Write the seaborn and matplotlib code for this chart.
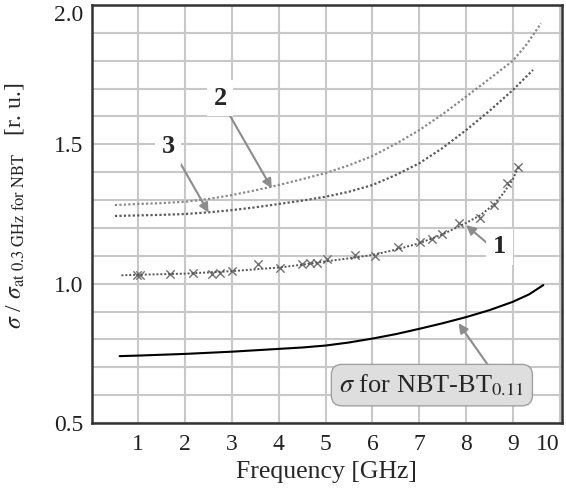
#!/usr/bin/env python
# -*- coding: utf-8 -*-

"""
Относительная проводимость sigma в зависимости от частоты (кривые 1, 2, 3 и NBT-BT0.11).
"""

import matplotlib.pyplot as plt
import seaborn as sns
from matplotlib.ticker import MultipleLocator

# ----------------------------------------------------------------------
# 1. Данные
# ----------------------------------------------------------------------
freq_nbt = [0.6, 1, 2, 3, 4, 4.5, 5, 5.5, 6, 6.5, 7, 7.5, 8, 8.5, 9, 9.35, 9.65]
sigma_nbt = [0.740, 0.742, 0.748, 0.756, 0.766, 0.771, 0.778, 0.789, 0.803, 0.819,
             0.838, 0.858, 0.880, 0.905, 0.935, 0.962, 0.995]

freq_2 = [0.5, 1, 1.5, 2, 2.5, 3, 3.5, 4, 4.5, 5, 5.5, 6, 6.5, 7, 7.5, 8, 8.5, 9, 9.3, 9.6]
curve_2 = [1.282, 1.286, 1.289, 1.294, 1.304, 1.318, 1.335, 1.354, 1.375, 1.397,
           1.425, 1.458, 1.502, 1.551, 1.608, 1.671, 1.735, 1.800, 1.860, 1.934]

freq_3 = [0.5, 1, 1.5, 2, 2.5, 3, 3.5, 4, 4.5, 5, 5.5, 6, 6.5, 7, 7.5, 8, 8.5, 9, 9.43]
curve_3 = [1.243, 1.245, 1.247, 1.250, 1.256, 1.264, 1.274, 1.286, 1.298, 1.312,
           1.330, 1.354, 1.390, 1.432, 1.487, 1.551, 1.620, 1.695, 1.767]

freq_1 = [0.64, 1, 2, 3, 4, 4.5, 5, 5.5, 6, 6.5, 7, 7.5, 8, 8.3, 8.6, 8.8, 9.0, 9.12]
curve_1 = [1.030, 1.032, 1.036, 1.045, 1.058, 1.068, 1.080, 1.091, 1.103, 1.122,
           1.145, 1.177, 1.218, 1.245, 1.285, 1.325, 1.375, 1.420]

freq_1_meas = [0.97, 1.03, 1.68, 2.17, 2.58, 2.75, 3.0, 3.56, 4.03, 4.5, 4.67, 4.82,
               5.03, 5.63, 6.05, 6.55, 7.02, 7.27, 7.48, 7.84, 8.3, 8.59, 8.87, 9.12]
curve_1_meas = [1.031, 1.031, 1.033, 1.037, 1.036, 1.040, 1.046, 1.070, 1.055, 1.070, 1.073, 1.075,
                1.087, 1.103, 1.100, 1.130, 1.148, 1.160, 1.177, 1.219, 1.234, 1.282, 1.360, 1.420]

x_ticks = [1, 2, 3, 4, 5, 6, 7, 8, 9, 10]
y_ticks = [0.5, 1.0, 1.5, 2.0]

# ----------------------------------------------------------------------
# 2. Стиль
# ----------------------------------------------------------------------
sns.set_style("white")
plt.rcParams["font.family"] = ["Liberation Serif", "DejaVu Serif"]
plt.rcParams["mathtext.fontset"] = "stix"

fig = plt.figure(figsize=(5.66, 4.9), dpi=100)
ax = fig.add_axes([0.1617, 0.1367, 0.8313, 0.8531])

# ----------------------------------------------------------------------
# 3. Кривые
# ----------------------------------------------------------------------
dots = (0, (1, 1))
sns.lineplot(x=freq_2, y=curve_2, ax=ax, color="#8a8a8a", lw=1.6, linestyle=dots)
sns.lineplot(x=freq_3, y=curve_3, ax=ax, color="#5a5a5a", lw=1.6, linestyle=dots)
sns.lineplot(x=freq_1, y=curve_1, ax=ax, color="#555555", lw=1.4, linestyle=dots)
sns.scatterplot(x=freq_1_meas, y=curve_1_meas, ax=ax, marker="x", s=36,
                color="#707070", linewidth=1.0)
sns.lineplot(x=freq_nbt, y=sigma_nbt, ax=ax, color="black", lw=1.5)

# ----------------------------------------------------------------------
# 4. Оси и сетка
# ----------------------------------------------------------------------
ax.set_xlim(0, 10.05)
ax.set_ylim(0.5, 2.0)
ax.set_xticks(x_ticks)
ax.set_yticks(y_ticks)
ax.set_yticklabels([f"{v:.1f}" for v in y_ticks])
ax.yaxis.set_minor_locator(MultipleLocator(0.1))
ax.grid(True, which="major", color="#c8c8c8", lw=1.5)
ax.grid(True, which="minor", axis="y", color="#c8c8c8", lw=1.5)
ax.set_axisbelow(True)
ax.tick_params(which="both", length=0, labelsize=17, colors="#222222")
ax.tick_params(axis="x", pad=8)
ax.tick_params(axis="y", pad=6)
# крайние подписи сдвигаем внутрь, как на оригинале
ax.get_xticklabels()[-1].set_ha("right")
ax.get_yticklabels()[-1].set_va("top")
for sp in ax.spines.values():
    sp.set_color("#333333")
    sp.set_linewidth(1.8)

ax.set_xlabel("Frequency [GHz]", fontsize=18.5, labelpad=4)
ax.set_ylabel(r"$\sigma$ / $\sigma$$_{\rm at\ 0.3\ GHz\ for\ NBT}$   [r. u.]", fontsize=17)
ax.yaxis.set_label_coords(-0.14, 0.52)

# ----------------------------------------------------------------------
# 5. Подписи со стрелками
# ----------------------------------------------------------------------
arrow = dict(arrowstyle="-|>", color="#8c8c8c", lw=1.5, mutation_scale=14, shrinkA=0, shrinkB=0)
bold_kw = dict(fontsize=19, fontweight="bold", ha="center", va="center",
               bbox=dict(boxstyle="square,pad=0.25", fc="white", ec="none"))

ax.annotate("", xy=(3.85, 1.342), xytext=(2.85, 1.634), arrowprops=arrow)
ax.text(2.75, 1.666, "2", **bold_kw)

ax.annotate("", xy=(2.5, 1.255), xytext=(1.82, 1.455), arrowprops=arrow)
ax.text(1.64, 1.491, "3", **bold_kw)

ax.annotate("", xy=(8.0, 1.21), xytext=(8.62, 1.121), arrowprops=arrow)
ax.text(8.71, 1.133, "1", **bold_kw)

ax.annotate("", xy=(7.84, 0.858), xytext=(8.48, 0.705), arrowprops=arrow)
ax.text(7.27, 0.636, r"$\sigma$ for NBT-BT$_{0.11}$", fontsize=19, ha="center", va="center",
        bbox=dict(boxstyle="round,pad=0.3,rounding_size=0.4", fc="#dedede", ec="#a0a0a0", lw=1.0))

fig.savefig("out.png", dpi=100)
